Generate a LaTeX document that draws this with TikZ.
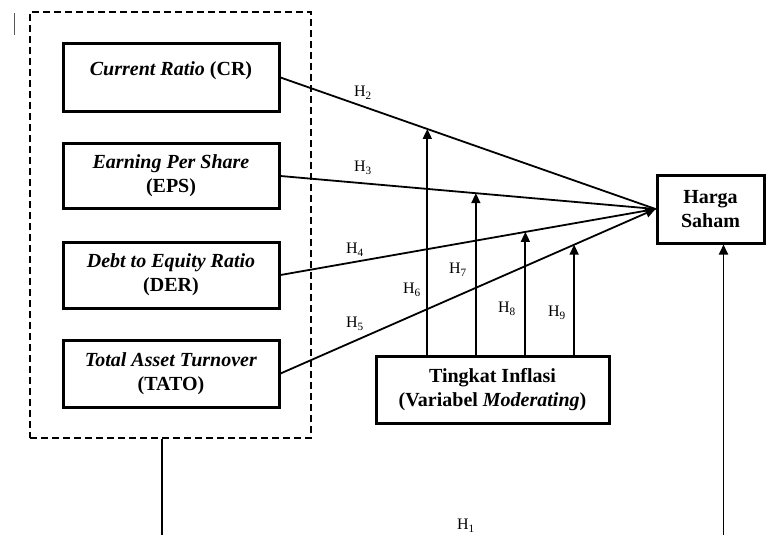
\documentclass[tikz,border=0pt]{standalone}
\usepackage{fontspec}
\setmainfont{Liberation Serif}
\usetikzlibrary{arrows.meta,calc}

\tikzset{
  varbox/.style={draw, line width=3pt, rectangle, align=center, inner sep=0pt,
    font=\fontsize{20}{24}\selectfont\bfseries},
  link/.style={line width=1.8pt},
  arr/.style={line width=1.8pt, -{Triangle[length=10pt,width=9pt]}},
  hlabel/.style={font=\fontsize{16}{18}\selectfont, inner sep=0pt},
  groupbox/.style={draw, line width=1.8pt, dash pattern=on 7pt off 4pt, inner sep=0pt}
}

\begin{document}
\begin{tikzpicture}[x=1pt, y=-1pt]
\useasboundingbox (0,0) rectangle (766,535);

% small mark at the top-left corner
\draw[line width=1pt, gray!70!black] (14,13) coordinate (m1) -- (14,35) coordinate (m2);

% group of independent variables
\node[groupbox, minimum width=281pt, minimum height=426pt] (grp) at (170.5,225) {};

% independent variables
\node[varbox, minimum width=216pt, minimum height=67pt, text height=14pt, text depth=18pt]
  (cr) at (171,77.5) {\textit{Current Ratio} (CR)};
\node[varbox, minimum width=216pt, minimum height=65pt] (eps) at (171,176)
  {\textit{Earning Per Share}\\(EPS)};
\node[varbox, minimum width=216pt, minimum height=66pt] (der) at (171,275)
  {\textit{Debt to Equity Ratio}\\(DER)};
\node[varbox, minimum width=216pt, minimum height=67pt] (tato) at (171,373.5)
  {\textit{Total Asset Turnover}\\(TATO)};

% dependent variable
\node[varbox, minimum width=107pt, minimum height=68pt] (hs) at (710.5,209)
  {Harga\\Saham};

% moderating variable
\node[varbox, minimum width=233pt, minimum height=67pt] (mod) at (492.5,389.5)
  {Tingkat Inflasi\\(Variabel \textit{Moderating})};

% direct effects
\draw[link] (cr.east) -- (hs.west);
\draw[link] (eps.east) -- (hs.west);
\draw[link] (der.east) -- (hs.west);
\draw[arr] (tato.east) -- (hs.west);

% moderation points on the direct paths
\coordinate (p6) at ($(cr.east)!0.3915!(hs.west)$);
\coordinate (p7) at ($(eps.east)!0.521!(hs.west)$);
\coordinate (p8) at ($(der.east)!0.653!(hs.west)$);
\coordinate (p9) at ($(tato.east)!0.783!(hs.west)$);

\draw[arr] (mod.north -| p6) -- (p6);
\draw[arr] (mod.north -| p7) -- (p7);
\draw[arr] (mod.north -| p8) -- (p8);
\draw[arr] (mod.north -| p9) -- (p9);

% simultaneous effect
\coordinate (b1) at (162,535);
\coordinate (b2) at (723.5,535);
\draw[link] (grp.south -| b1) -- (b1);
\draw[arr] (b2) -- (hs.south -| b2);

% hypothesis labels
\node[hlabel] (h1) at (466,526) {H\textsubscript{1}};
\node[hlabel] (h2) at (363,93) {H\textsubscript{2}};
\node[hlabel] (h3) at (363,168) {H\textsubscript{3}};
\node[hlabel] (h4) at (355,250) {H\textsubscript{4}};
\node[hlabel] (h5) at (355,324) {H\textsubscript{5}};
\node[hlabel] (h6) at (412,290) {H\textsubscript{6}};
\node[hlabel] (h7) at (458,270) {H\textsubscript{7}};
\node[hlabel] (h8) at (507,309) {H\textsubscript{8}};
\node[hlabel] (h9) at (557,313) {H\textsubscript{9}};
\end{tikzpicture}
\end{document}
